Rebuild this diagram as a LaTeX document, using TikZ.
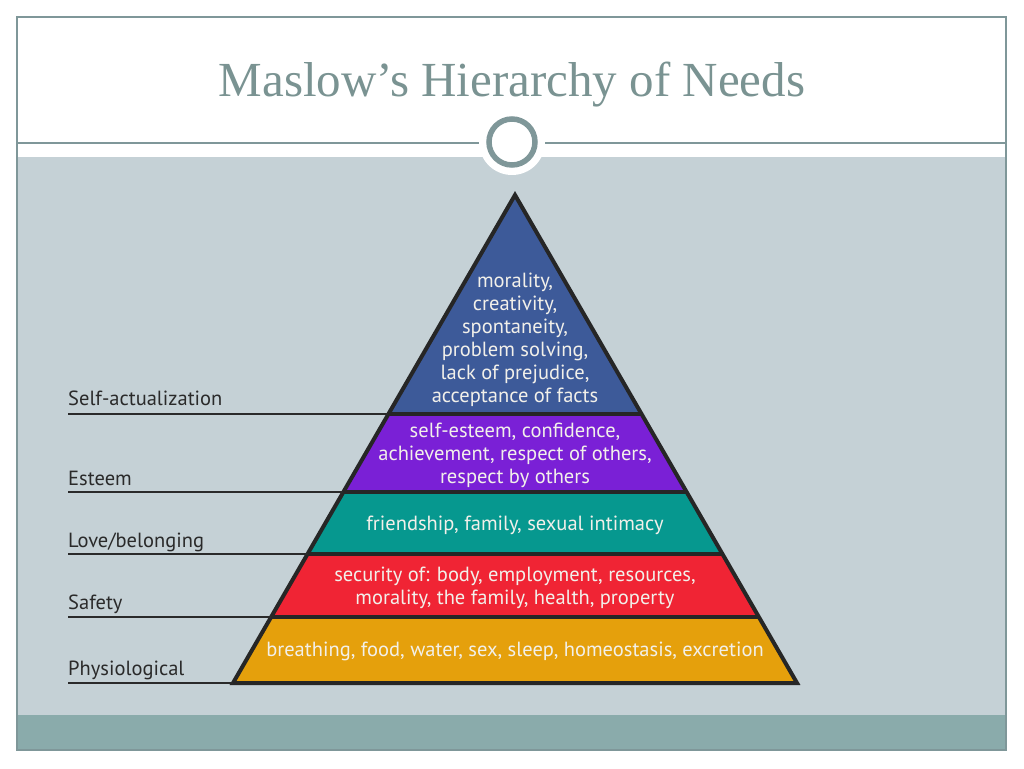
\documentclass[tikz,border=0pt]{standalone}
\usepackage{fontspec}
\setmainfont{Liberation Serif}
\newfontfamily\dinfont{PT Sans}
\definecolor{frame}{HTML}{7F9799}
\definecolor{titlec}{HTML}{7A9392}
\definecolor{band}{HTML}{C5D1D6}
\definecolor{foot}{HTML}{8AABAB}
\definecolor{lblue}{HTML}{3D5A99}
\definecolor{lpurple}{HTML}{7A20D6}
\definecolor{lteal}{HTML}{06988F}
\definecolor{lred}{HTML}{F02434}
\definecolor{lorange}{HTML}{E5A00C}
\definecolor{labc}{HTML}{2A2A2A}
\definecolor{txtc}{HTML}{F2F0EA}
\tikzset{
  layer/.style={line width=3.5pt, draw=black!85},
  layertext/.style={text=txtc, font=\dinfont\fontsize{20.5}{23}\selectfont, align=center, inner sep=0pt},
  lab/.style={text=labc, font=\dinfont\fontsize{20.5}{22}\selectfont, anchor=base west, inner sep=0pt},
  labline/.style={draw=labc, line width=2.6pt},
}
\begin{document}
\begin{tikzpicture}[x=1pt,y=-1pt]
\useasboundingbox (0,0) rectangle (1024,768);
\fill[white] (0,0) rectangle (1024,768);
% background band and footer
\fill[band] (17,157) rectangle (1006,715);
\fill[foot] (17,715) rectangle (1006,750);
\draw[frame, line width=1.6pt] (17,17) rectangle (1006,750);
\draw[frame, line width=2pt] (17,143) -- (1006,143);
% title
\node[text=titlec, font=\fontsize{49}{52}\selectfont, inner sep=0pt] (title) at (512,85) {Maslow’s Hierarchy of Needs};
% circle ornament
\fill[white] (512,142) circle (33);
\draw[frame, line width=5.5pt] (512,142) circle (23);
% pyramid coordinates
\coordinate (apex) at (515,195);
\coordinate (l1) at (388.4,414); \coordinate (r1) at (641.6,414);
\coordinate (l2) at (343.4,492); \coordinate (r2) at (686.6,492);
\coordinate (l3) at (307.5,554); \coordinate (r3) at (722.5,554);
\coordinate (l4) at (271.1,617); \coordinate (r4) at (758.9,617);
\coordinate (l5) at (233,683);   \coordinate (r5) at (797,683);
% layers
\fill[lblue] (apex) -- (r1) -- (l1) -- cycle;
\fill[lpurple] (l1) -- (r1) -- (r2) -- (l2) -- cycle;
\fill[lteal] (l2) -- (r2) -- (r3) -- (l3) -- cycle;
\fill[lred] (l3) -- (r3) -- (r4) -- (l4) -- cycle;
\fill[lorange] (l4) -- (r4) -- (r5) -- (l5) -- cycle;
\draw[layer] (l1) -- (r1) (l2) -- (r2) (l3) -- (r3) (l4) -- (r4);
\draw[layer, line width=4pt, line join=miter] (l5) -- (apex) -- (r5) -- cycle;
% labels and lines
\coordinate (s1) at (68,414); \coordinate (s2) at (68,492); \coordinate (s3) at (68,554);
\coordinate (s4) at (68,617); \coordinate (s5) at (68,683);
\draw[labline] (s1) -- (l1);
\draw[labline] (s2) -- (l2);
\draw[labline] (s3) -- (l3);
\draw[labline] (s4) -- (l4);
\draw[labline] (s5) -- (l5);
\node[lab] (t1) at (68,405) {Self-actualization};
\node[lab] (t2) at (68,485) {Esteem};
\node[lab] (t3) at (68,547) {Love/belonging};
\node[lab] (t4) at (68,609) {Safety};
\node[lab] (t5) at (68,675) {Physiological};
% layer texts
\node[layertext] (x1) at (515,340) {morality,\\creativity,\\spontaneity,\\problem solving,\\lack of prejudice,\\acceptance of facts};
\node[layertext] (x2) at (515,455) {self-esteem, confidence,\\achievement, respect of others,\\respect by others};
\node[layertext] (x3) at (515,525) {friendship, family, sexual intimacy};
\node[layertext] (x4) at (515,588) {security of: body, employment, resources,\\morality, the family, health, property};
\node[layertext] (x5) at (515,651) {breathing, food, water, sex, sleep, homeostasis, excretion};
\end{tikzpicture}
\end{document}
